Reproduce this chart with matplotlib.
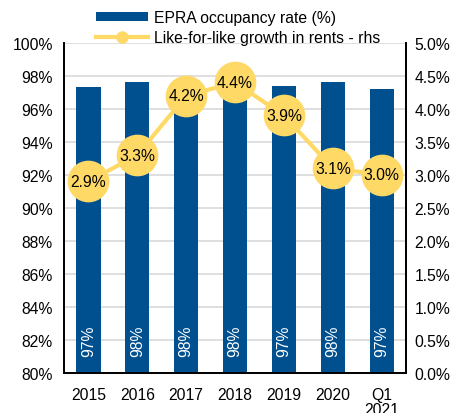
import numpy as np
import matplotlib.pyplot as plt

plt.rcParams['font.family'] = ['Liberation Sans', 'DejaVu Sans']

# data
years = ['2015', '2016', '2017', '2018', '2019', '2020', 'Q1\n2021']
occupancy = [97.3, 97.6, 97.6, 97.6, 97.4, 97.6, 97.2]
occ_labels = ['97%', '98%', '98%', '98%', '97%', '98%', '97%']
lfl_growth = [2.9, 3.3, 4.2, 4.4, 3.9, 3.1, 3.0]

blue = '#004F8F'
yellow = '#FFD966'
fs = 11.3

fig = plt.figure(figsize=(4.6, 4.14), dpi=100)
ax = fig.add_axes([0.139, 0.097, 0.744, 0.797])
x = np.arange(len(years))

bars = ax.bar(x, occupancy, width=0.5, color=blue, label='EPRA occupancy rate (%)', zorder=2)
ax.set_ylim(80, 100)
ax.set_xlim(-0.5, len(years) - 0.5)
ax.set_yticks(np.arange(80, 101, 2))
ax.set_yticklabels([f'{v}%' for v in range(80, 101, 2)], fontsize=fs)
ax.set_xticks(x)
ax.set_xticklabels(years, fontsize=fs, linespacing=1.05)
ax.tick_params(axis='y', length=0, pad=8)
ax.tick_params(axis='x', length=0, pad=10)
ax.grid(axis='y', color='#D9D9D9', linewidth=1.2, zorder=0)
ax.spines['top'].set_visible(False)
for s in ['left', 'right', 'bottom']:
    ax.spines[s].set_linewidth(1.3)

for xi, lab in zip(x, occ_labels):
    ax.text(xi, 81.95, lab, rotation=90, color='white', ha='center', va='center',
            fontsize=fs, zorder=3)

ax2 = ax.twinx()
ax2.set_ylim(0, 5)
ax2.set_yticks(np.arange(0, 5.01, 0.5))
ax2.set_yticklabels([f'{v:.1f}%' for v in np.arange(0, 5.01, 0.5)], fontsize=fs)
ax2.tick_params(length=0, pad=6)
ax2.spines['top'].set_visible(False)
for s in ['left', 'right', 'bottom']:
    ax2.spines[s].set_linewidth(1.3)

line, = ax2.plot(x, lfl_growth, color=yellow, linewidth=3, marker='o',
                 markersize=29, label='Like-for-like growth in rents - rhs')
for xi, v in zip(x, lfl_growth):
    ax2.text(xi, v, f'{v:.1f}%', ha='center', va='center', fontsize=fs)

leg_line, = ax2.plot([], [], color=yellow, linewidth=3, marker='o', markersize=8)
fig.legend([bars, leg_line], ['EPRA occupancy rate (%)', 'Like-for-like growth in rents - rhs'],
           loc='upper left', bbox_to_anchor=(0.195, 0.988), frameon=False, fontsize=fs,
           handlelength=3.3, handleheight=0.5, labelspacing=0.3, borderaxespad=0,
           handletextpad=0.4)

fig.savefig('out.png', dpi=100)
